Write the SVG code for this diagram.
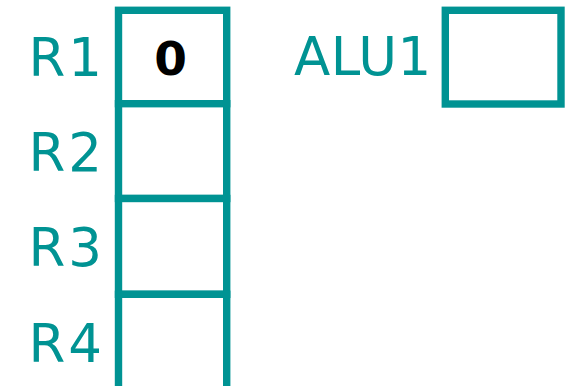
<svg xmlns="http://www.w3.org/2000/svg" width="568" height="386" viewBox="0 0 568 386">
<style>
.lbl{font-family:"DejaVu Sans",Verdana,sans-serif;font-size:53px;fill:#009393}
.r{letter-spacing:3px}
.box{fill:#fff;stroke:#009393;stroke-width:7.4}
.val{font-family:"DejaVu Sans",Verdana,sans-serif;font-size:47px;font-weight:bold;fill:#000;text-anchor:middle}
</style>
<rect width="568" height="386" fill="#fff"/>
<g id="R1">
<rect class="box" x="118.5" y="10.3" width="108.2" height="93.4"/>
<text class="lbl r" x="28.5" y="75.5">R1</text>
<text class="val" x="170.5" y="75">0</text>
</g>
<g id="R2">
<rect class="box" x="118.5" y="103.7" width="108.2" height="94.8"/>
<text class="lbl r" x="28.5" y="171">R2</text>
</g>
<g id="R3">
<rect class="box" x="118.5" y="198.5" width="108.2" height="95.8"/>
<text class="lbl r" x="28.5" y="266.3">R3</text>
</g>
<g id="R4">
<rect class="box" x="118.5" y="294.3" width="108.2" height="100"/>
<text class="lbl r" x="28.5" y="361.5">R4</text>
</g>
<g id="ALU1">
<rect class="box" x="445.3" y="10.3" width="115.7" height="93.7"/>
<text class="lbl" x="294" y="75" letter-spacing="0.5">ALU1</text>
</g>
<g id="connectors"/>
</svg>
